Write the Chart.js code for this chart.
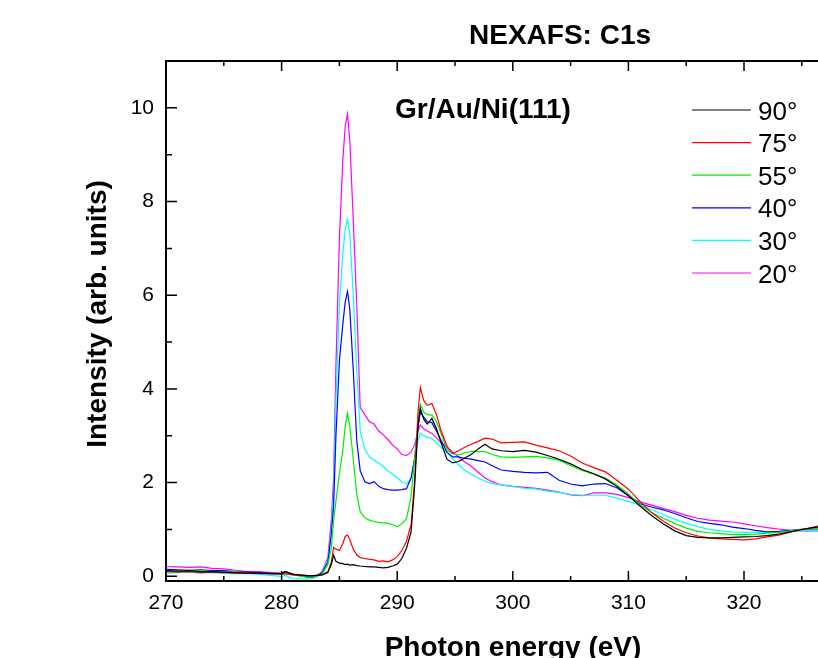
<!DOCTYPE html>
<html>
<head>
<meta charset="utf-8">
<title>NEXAFS: C1s</title>
<script src="https://cdn.jsdelivr.net/npm/chart.js@4.4.0/dist/chart.umd.min.js"></script>
<style>
    body { margin: 0; background: #fff; }
    #wrap { width: 818px; height: 658px; }
</style>
</head>
<body>
<div id="wrap"><canvas id="nexafsChart"></canvas></div>
<script>
// photon energy (eV), shared by all spectra
var energy = [
    270, 271, 272, 273, 274, 275, 276, 277, 278, 279,
    280, 280.3, 281, 282, 282.5, 283, 283.5, 284, 284.3, 284.5,
    284.7, 285, 285.3, 285.5, 285.7, 285.9, 286.2, 286.5, 286.8, 287.2,
    287.6, 288, 288.4, 288.8, 289.2, 289.6, 290, 290.4, 290.8, 291.2,
    291.5, 291.8, 292, 292.3, 292.6, 293, 293.4, 293.8, 294.3, 294.8,
    295.3, 295.8, 296.4, 297, 297.6, 298.2, 299, 300, 301, 302,
    303, 304, 305, 306, 307, 308, 309, 310, 311, 312,
    313, 314, 315, 316, 317, 318, 319, 320, 321, 322,
    323, 324, 325, 326, 326.4
];

var deg90 = [
    0.12, 0.11, 0.12, 0.10, 0.10, 0.09, 0.08, 0.07, 0.07, 0.06,
    0.05, 0.10, 0.04, 0.02, 0.01, 0.02, 0.03, 0.08, 0.25, 0.45,
    0.32, 0.28, 0.27, 0.25, 0.26, 0.24, 0.25, 0.23, 0.22, 0.21,
    0.20, 0.20, 0.19, 0.18, 0.19, 0.22, 0.26, 0.38, 0.60, 0.95,
    1.90, 3.20, 3.58, 3.35, 3.25, 3.37, 3.15, 2.85, 2.50, 2.42,
    2.45, 2.52, 2.60, 2.72, 2.82, 2.72, 2.68, 2.66, 2.69, 2.65,
    2.58, 2.50, 2.40, 2.28, 2.19, 2.08, 1.92, 1.72, 1.50, 1.30,
    1.12, 0.97, 0.87, 0.83, 0.82, 0.82, 0.83, 0.84, 0.85, 0.87,
    0.90, 0.95, 1.00, 1.04, 1.05
];

var deg75 = [
    0.10, 0.09, 0.10, 0.08, 0.09, 0.08, 0.07, 0.06, 0.06, 0.05,
    0.05, 0.05, 0.03, 0.02, 0.01, 0.02, 0.03, 0.10, 0.30, 0.62,
    0.58, 0.55, 0.70, 0.85, 0.88, 0.78, 0.58, 0.46, 0.40, 0.38,
    0.36, 0.35, 0.32, 0.33, 0.31, 0.35, 0.42, 0.55, 0.75, 1.10,
    2.00, 3.50, 4.03, 3.75, 3.65, 3.69, 3.45, 3.10, 2.78, 2.62,
    2.68, 2.75, 2.82, 2.88, 2.95, 2.93, 2.85, 2.86, 2.87, 2.80,
    2.74, 2.68, 2.57, 2.42, 2.32, 2.23, 2.05, 1.86, 1.60, 1.36,
    1.18, 1.03, 0.93, 0.86, 0.82, 0.80, 0.79, 0.78, 0.80, 0.84,
    0.88, 0.94, 1.00, 1.05, 1.07
];

var deg55 = [
    0.10, 0.12, 0.11, 0.12, 0.10, 0.09, 0.10, 0.07, 0.06, 0.05,
    0.05, 0.06, 0.03, -0.01, -0.02, 0.00, 0.05, 0.25, 0.60, 1.20,
    1.60, 2.20, 2.70, 3.20, 3.48, 3.20, 2.50, 1.75, 1.38, 1.25,
    1.20, 1.17, 1.15, 1.14, 1.13, 1.10, 1.06, 1.12, 1.23, 1.70,
    2.50, 3.30, 3.67, 3.50, 3.45, 3.44, 3.30, 3.05, 2.70, 2.62,
    2.59, 2.63, 2.67, 2.66, 2.66, 2.60, 2.55, 2.54, 2.55, 2.56,
    2.53, 2.48, 2.36, 2.26, 2.18, 2.10, 1.95, 1.76, 1.53, 1.36,
    1.24, 1.13, 1.03, 0.96, 0.93, 0.91, 0.89, 0.89, 0.90, 0.92,
    0.94, 0.97, 1.00, 1.02, 1.02
];

var deg40 = [
    0.15, 0.14, 0.13, 0.14, 0.12, 0.12, 0.10, 0.09, 0.08, 0.07,
    0.06, 0.10, 0.04, 0.00, -0.02, 0.00, 0.08, 0.30, 0.90, 1.50,
    3.00, 4.60, 5.40, 5.85, 6.08, 5.70, 4.40, 2.90, 2.25, 2.02,
    1.98, 2.02, 1.92, 1.87, 1.85, 1.84, 1.84, 1.85, 1.87, 2.10,
    2.50, 3.20, 3.50, 3.40, 3.30, 3.28, 3.10, 2.90, 2.65, 2.55,
    2.55, 2.52, 2.50, 2.47, 2.44, 2.36, 2.27, 2.24, 2.22, 2.21,
    2.22, 2.05, 1.97, 1.93, 1.97, 1.98, 1.89, 1.72, 1.55, 1.48,
    1.42, 1.34, 1.25, 1.17, 1.13, 1.10, 1.05, 1.02, 0.98, 0.95,
    0.96, 0.98, 1.00, 1.01, 1.01
];

var deg30 = [
    0.06, 0.08, 0.09, 0.07, 0.08, 0.06, 0.05, 0.06, 0.04, 0.02,
    0.00, 0.02, -0.05, -0.06, -0.05, -0.02, 0.10, 0.35, 1.00, 1.80,
    3.80, 5.80, 6.90, 7.40, 7.62, 7.30, 6.00, 4.40, 3.10, 2.70,
    2.55, 2.48, 2.42, 2.34, 2.25, 2.18, 2.10, 2.02, 1.97, 2.09,
    2.50, 2.90, 3.06, 3.00, 2.97, 2.94, 2.85, 2.75, 2.65, 2.50,
    2.38, 2.27, 2.18, 2.10, 2.03, 1.98, 1.95, 1.92, 1.88, 1.86,
    1.82, 1.79, 1.75, 1.73, 1.73, 1.73, 1.67, 1.60, 1.52, 1.42,
    1.32, 1.22, 1.13, 1.06, 1.00, 0.97, 0.95, 0.94, 0.94, 0.95,
    0.95, 0.96, 0.97, 0.98, 0.98
];

var deg20 = [
    0.21, 0.20, 0.19, 0.20, 0.17, 0.16, 0.13, 0.10, 0.10, 0.08,
    0.07, 0.10, 0.05, 0.00, -0.03, 0.00, 0.10, 0.40, 1.20, 2.10,
    4.50, 7.20, 8.90, 9.60, 9.87, 9.30, 7.60, 5.80, 3.60, 3.45,
    3.30, 3.25, 3.10, 3.02, 2.92, 2.80, 2.72, 2.60, 2.58, 2.65,
    2.80, 3.10, 3.23, 3.15, 3.10, 3.05, 2.95, 2.85, 2.75, 2.65,
    2.55, 2.45, 2.35, 2.22, 2.10, 2.02, 1.95, 1.92, 1.90, 1.88,
    1.84, 1.80, 1.74, 1.72, 1.78, 1.78, 1.75, 1.68, 1.59, 1.52,
    1.45, 1.38, 1.30, 1.24, 1.20, 1.18, 1.16, 1.12, 1.08, 1.04,
    1.01, 0.98, 0.97, 0.97, 0.97
];

var seriesLabels = ['90°', '75°', '55°', '40°', '30°', '20°'];
var seriesValues = [deg90, deg75, deg55, deg40, deg30, deg20];
var seriesColors = ['#000000', '#ff0000', '#00ee00', '#0000ff', '#00ffff', '#ff00ff'];

var xTickValues = [270, 280, 290, 300, 310, 320];
var xMinorValues = [275, 285, 295, 305, 315, 325];
var yTickValues = [0, 2, 4, 6, 8, 10];
var yMinorValues = [1, 3, 5, 7, 9];

var fontFamily = '"Liberation Sans", Arial, Helvetica, sans-serif';
Chart.defaults.font.family = fontFamily;
Chart.defaults.color = '#000';

function toPoints(values) {
    return values.map(function (v, i) {
        return { x: energy[i], y: v };
    });
}

var datasets = seriesValues.map(function (values, i) {
    return {
        label: seriesLabels[i],
        data: toPoints(values),
        borderColor: seriesColors[i],
        backgroundColor: seriesColors[i],
        borderWidth: 1.2,
        pointRadius: 0,
        tension: 0,
        fill: false
    };
});

// frame, inward ticks, titles and the legend box drawn on top of the plot
var frameAndText = {
    id: 'frameAndText',
    afterDraw: function (chart) {
        var ctx = chart.ctx;
        var area = chart.chartArea;
        var xs = chart.scales.x;
        var ys = chart.scales.y;

        ctx.save();
        ctx.strokeStyle = '#000';
        ctx.lineWidth = 2;
        ctx.beginPath();
        ctx.moveTo(area.left - 1, area.top);
        ctx.lineTo(area.right, area.top);
        ctx.stroke();

        ctx.lineWidth = 1.5;
        ctx.beginPath();
        xTickValues.concat(xMinorValues).forEach(function (v) {
            var len = xTickValues.indexOf(v) >= 0 ? 10 : 5;
            var px = xs.getPixelForValue(v);
            ctx.moveTo(px, area.bottom);
            ctx.lineTo(px, area.bottom - len);
            ctx.moveTo(px, area.top);
            ctx.lineTo(px, area.top + len);
        });
        yTickValues.concat(yMinorValues).forEach(function (v) {
            var len = yTickValues.indexOf(v) >= 0 ? 11 : 6;
            var py = ys.getPixelForValue(v);
            ctx.moveTo(area.left, py);
            ctx.lineTo(area.left + len, py);
        });
        ctx.stroke();

        ctx.fillStyle = '#000';
        ctx.textAlign = 'center';
        ctx.textBaseline = 'alphabetic';
        ctx.font = 'bold 28px ' + fontFamily;
        ctx.fillText('NEXAFS: C1s', 560, 44);
        ctx.fillText('Gr/Au/Ni(111)', 483, 118);
        ctx.fillText('Photon energy (eV)', 513, 656);

        ctx.save();
        ctx.translate(106, 314);
        ctx.rotate(-Math.PI / 2);
        ctx.fillText('Intensity (arb. units)', 0, 0);
        ctx.restore();

        // legend
        ctx.font = '26px ' + fontFamily;
        ctx.textAlign = 'left';
        chart.data.datasets.forEach(function (ds, i) {
            var ly = 110 + i * 32.6;
            ctx.strokeStyle = ds.borderColor;
            ctx.lineWidth = 1.2;
            ctx.beginPath();
            ctx.moveTo(692, ly);
            ctx.lineTo(751, ly);
            ctx.stroke();
            ctx.fillText(ds.label, 758, ly + 9.5);
        });
        ctx.restore();
    }
};

var ctx = document.getElementById('nexafsChart').getContext('2d');
var nexafsChart = new Chart(ctx, {
    type: 'line',
    data: { datasets: datasets },
    options: {
        responsive: true,
        maintainAspectRatio: false,
        animation: false,
        layout: {
            padding: { top: 61, left: 0, right: 0, bottom: 0 }
        },
        plugins: {
            legend: { display: false },
            title: { display: false },
            tooltip: { enabled: false }
        },
        scales: {
            x: {
                type: 'linear',
                min: 270,
                max: 326.4,
                afterBuildTicks: function (scale) {
                    scale.ticks = xTickValues.map(function (v) { return { value: v }; });
                },
                afterFit: function (scale) {
                    scale.height = 77;
                },
                grid: { display: false, drawTicks: false },
                border: { display: true, color: '#000', width: 2 },
                ticks: {
                    color: '#000',
                    font: { size: 21 },
                    padding: 10,
                    maxRotation: 0,
                    autoSkip: false
                }
            },
            y: {
                type: 'linear',
                min: -0.1,
                max: 11,
                afterBuildTicks: function (scale) {
                    scale.ticks = yTickValues.map(function (v) { return { value: v }; });
                },
                afterFit: function (scale) {
                    scale.width = 166;
                },
                grid: { display: false, drawTicks: false },
                border: { display: true, color: '#000', width: 2 },
                ticks: {
                    color: '#000',
                    font: { size: 21 },
                    padding: 12
                }
            }
        }
    },
    plugins: [frameAndText]
});
</script>
</body>
</html>
